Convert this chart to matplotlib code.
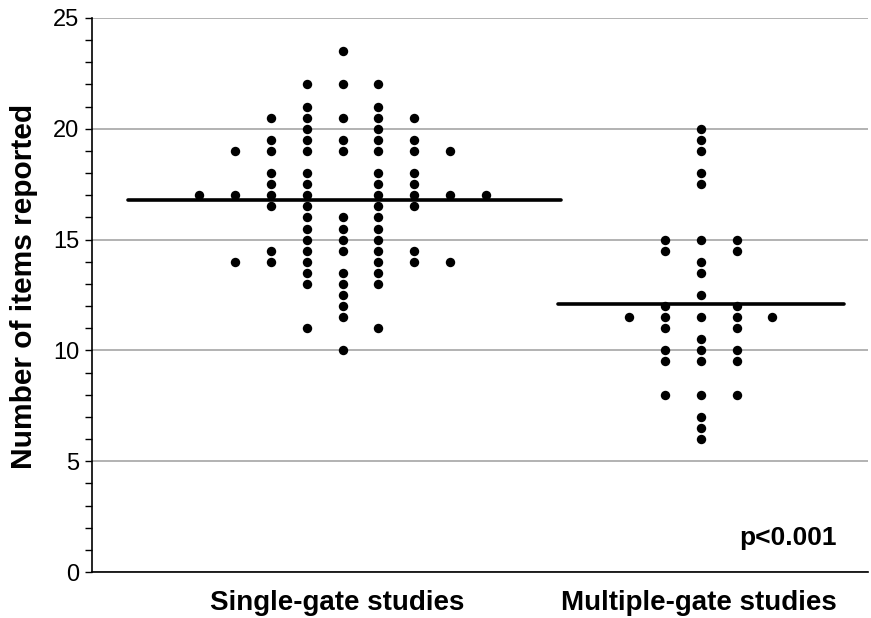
import matplotlib
matplotlib.use("Agg")
import matplotlib.pyplot as plt
from matplotlib.ticker import MultipleLocator

# ---- data ----
categories = ["Single-gate studies", "Multiple-gate studies"]

# Single-gate: column offset index (relative to group centre) and values
single_cols = {
    -4: [17],
    -3: [19, 17, 14],
    -2: [20.5, 19.5, 19, 18, 17.5, 17, 16.5, 14.5, 14],
    -1: [22, 21, 20.5, 20, 19.5, 19, 18, 17.5, 17, 16.5, 16, 15.5, 15, 14.5, 14, 13.5, 13, 11],
    0: [23.5, 22, 20.5, 19.5, 19, 16, 15.5, 15, 14.5, 13.5, 13, 12.5, 12, 11.5, 10],
    1: [22, 21, 20.5, 20, 19.5, 19, 18, 17.5, 17, 16.5, 16, 15.5, 15, 14.5, 14, 13.5, 13, 11],
    2: [20.5, 19.5, 19, 18, 17.5, 17, 16.5, 14.5, 14],
    3: [19, 17, 14],
    4: [17],
}
multi_cols = {
    -2: [11.5],
    -1: [15, 14.5, 12, 11.5, 11, 10, 9.5, 8],
    0: [20, 19.5, 19, 18, 17.5, 15, 14, 13.5, 12.5, 11.5, 10.5, 10, 9.5, 8, 7, 6.5, 6],
    1: [15, 14.5, 12, 11.5, 11, 10, 9.5, 8],
    2: [11.5],
}
group_means = [16.8, 12.1]
mean_spans = [(0.40, 1.61), (1.60, 2.40)]
p_text = "p<0.001"

# ---- plot ----
fig = plt.figure(figsize=(8.71, 6.18), dpi=100)
ax = fig.add_axes([0.1056, 0.0744, 0.891, 0.8965])

col_step = 0.1
for centre, cols in zip([1, 2], [single_cols, multi_cols]):
    xs, ys = [], []
    for k, vals in cols.items():
        for v in vals:
            xs.append(centre + k * col_step)
            ys.append(v)
    ax.scatter(xs, ys, s=46, color="black", zorder=3, linewidths=0)

for m, (x0, x1) in zip(group_means, mean_spans):
    ax.plot([x0, x1], [m, m], color="black", lw=2.6, solid_capstyle="round", zorder=4)

ax.set_xlim(0.3, 2.467)
ax.set_ylim(0, 25)
ax.yaxis.set_major_locator(MultipleLocator(5))
ax.yaxis.set_minor_locator(MultipleLocator(1))
ax.grid(axis="y", which="major", color="#a6a6a6", lw=1.2, zorder=0)
ax.set_axisbelow(True)

for s in ["top", "right"]:
    ax.spines[s].set_visible(False)
ax.spines["left"].set_linewidth(1.2)
ax.spines["bottom"].set_linewidth(1.2)

ax.tick_params(axis="y", which="both", direction="out", length=5, width=1.0, color="black",
               labelsize=17, pad=4)
ax.tick_params(axis="x", length=0, pad=13)
ax.set_xticks([0.985, 1.995])
ax.set_xticklabels(categories, fontsize=20, fontweight="bold", family="Liberation Sans")
for lbl in ax.get_yticklabels():
    lbl.set_family("Liberation Sans")

ax.set_ylabel("Number of items reported", fontsize=21.5, fontweight="bold",
              family="Liberation Sans")
ax.yaxis.set_label_coords(-0.069, 0.515)

ax.text(2.38, 1.53, p_text, fontsize=19, fontweight="bold", family="Liberation Sans",
        ha="right", va="center")

fig.savefig("out.png", dpi=100)
